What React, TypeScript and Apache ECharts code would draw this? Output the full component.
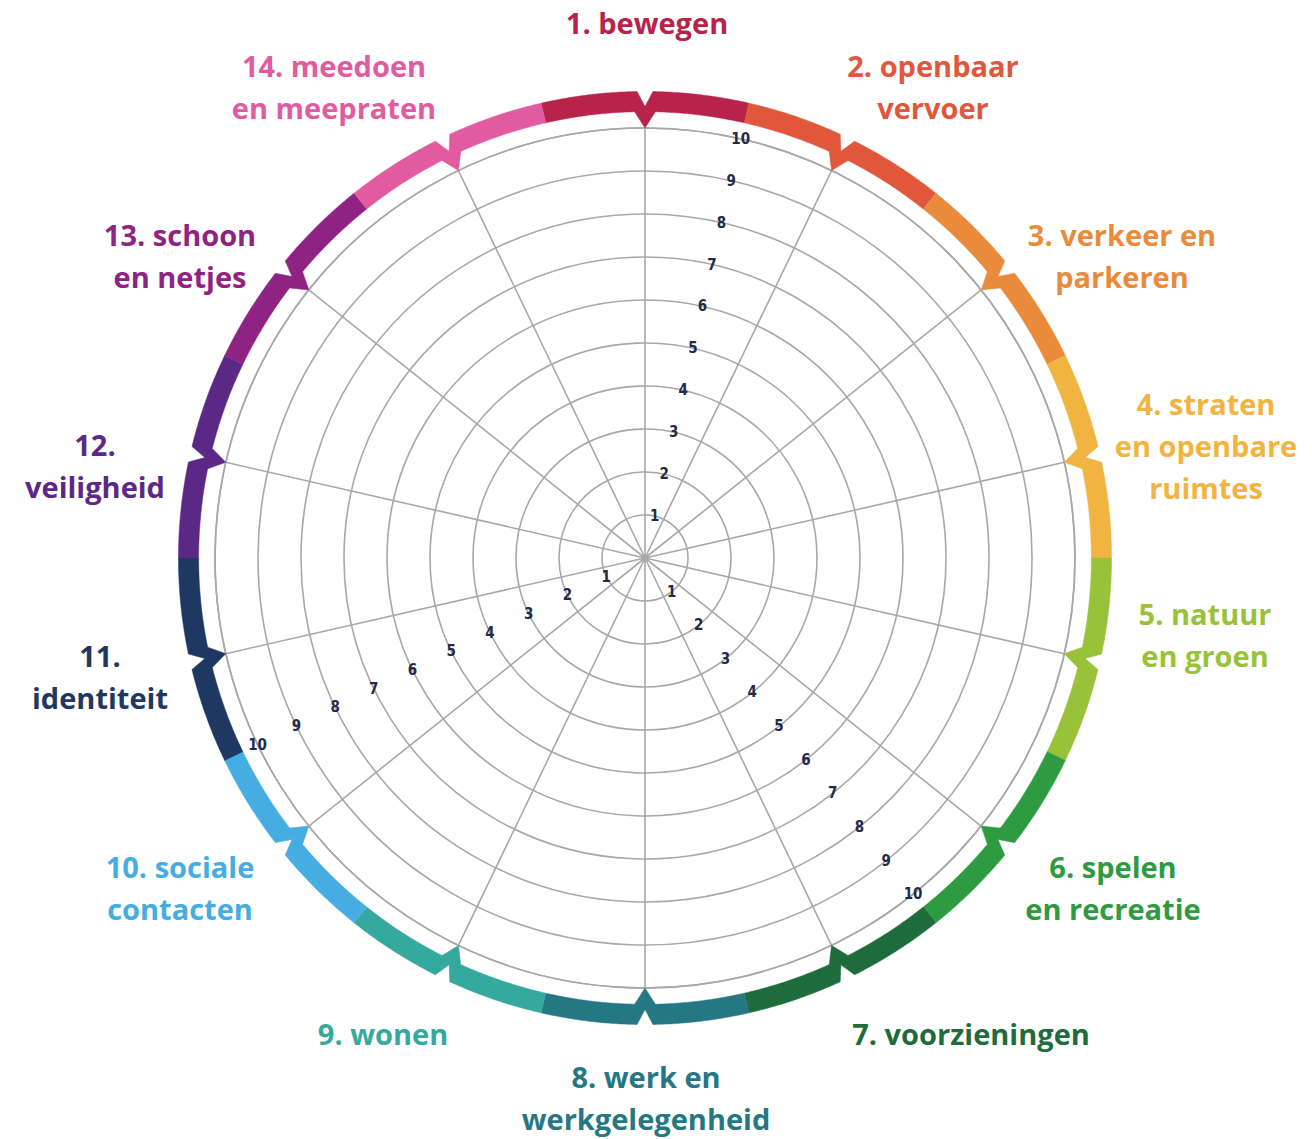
import React, { useEffect, useRef } from 'react';
import * as echarts from 'echarts';

// ---- data ----
const categories: string[] = [
  '1. bewegen',
  '2. openbaar\nvervoer',
  '3. verkeer en\nparkeren',
  '4. straten\nen openbare\nruimtes',
  '5. natuur\nen groen',
  '6. spelen\nen recreatie',
  '7. voorzieningen',
  '8. werk en\nwerkgelegenheid',
  '9. wonen',
  '10. sociale\ncontacten',
  '11.\nidentiteit',
  '12.\nveiligheid',
  '13. schoon\nen netjes',
  '14. meedoen\nen meepraten',
];
const categoryColors: string[] = [
  '#B8234A', '#E0573B', '#E98B3B', '#F1B441', '#99C23B', '#2E9B41', '#1E6C3C',
  '#257784', '#35A99D', '#46ADE2', '#1F3862', '#5C2886', '#8F2383', '#E25BA0',
];
const tickLabels: string[] = ['1', '2', '3', '4', '5', '6', '7', '8', '9', '10'];
const scaleMax = 10;
// tick-label rows sit between these category positions (0-based, fractional)
const tickLabelSpokes: number[] = [0.5, 5.5, 9.5];

// ---- layout ----
const CENTER: [number, number] = [645, 558];
const RADIUS = 430;
const RING_OUTER = 10.85;
const RING_INNER = 10.38;
const RING_NOTCH = 10.5;
const RING_TIP = 10.0;
const NOTCH_HALF = 0.038;
const TIP_HALF = 0.052;
const labelCenters: [number, number][] = [
  [647, 22], [933, 86], [1122, 255], [1206, 445], [1205, 634], [1113, 887], [971, 1033],
  [646, 1097], [383, 1033], [180, 887], [100, 676], [95, 465], [180, 255], [334, 86],
];

const N = categories.length;
const GRID = '#A8A8A8';

export default function App() {
  const ref = useRef<HTMLDivElement>(null);
  useEffect(() => {
    if (!ref.current) return;
    const chart = echarts.init(ref.current, undefined, { renderer: 'svg' });

    const polars: any[] = [{ center: CENTER, radius: RADIUS }];
    const angleAxes: any[] = [
      {
        polarIndex: 0,
        type: 'value',
        min: 0,
        max: N,
        interval: 1,
        startAngle: 90,
        clockwise: true,
        axisLine: { show: true, lineStyle: { color: GRID, width: 1.6 } },
        axisTick: { show: false },
        axisLabel: { show: false },
        splitLine: { show: true, lineStyle: { color: GRID, width: 1.6 } },
      },
    ];
    const radiusAxes: any[] = [
      {
        polarIndex: 0,
        type: 'value',
        min: 0,
        max: scaleMax,
        interval: 1,
        axisLine: { show: false },
        axisTick: { show: false },
        axisLabel: { show: false },
        splitLine: { show: true, lineStyle: { color: GRID, width: 1.6 } },
      },
    ];
    tickLabelSpokes.forEach((pos, i) => {
      const idx = i + 1;
      let start = 90 - (pos * 360) / N;
      while (start < 0) start += 360;
      polars.push({ center: CENTER, radius: RADIUS });
      angleAxes.push({
        polarIndex: idx,
        type: 'value',
        min: 0,
        max: N,
        startAngle: start,
        clockwise: true,
        axisLine: { show: false },
        axisTick: { show: false },
        axisLabel: { show: false },
        splitLine: { show: false },
      });
      radiusAxes.push({
        polarIndex: idx,
        type: 'value',
        min: 0,
        max: scaleMax,
        interval: 1,
        z: 10,
        axisLine: { show: false },
        axisTick: { show: false },
        splitLine: { show: false },
        axisLabel: {
          show: true,
          showMinLabel: false,
          margin: 0,
          rotate: 0,
          align: 'center',
          verticalAlign: 'middle',
          color: '#232A48',
          fontSize: 15,
          fontWeight: 'bold',
          fontFamily: '"Liberation Sans Narrow", "DejaVu Sans Condensed", "Roboto", sans-serif',
          formatter: (v: number) => {
            const k = Math.round(v);
            return k >= 1 ? tickLabels[k - 1] : '';
          },
        },
      });
    });

    const graphics = categories.map((name, i) => ({
      type: 'text',
      x: labelCenters[i][0],
      y: labelCenters[i][1],
      style: {
        text: name,
        fill: categoryColors[i],
        font: 'bold 29px "Open Sans", "Roboto", sans-serif',
        align: 'center',
        verticalAlign: 'middle',
        lineHeight: 42,
      },
    }));

    chart.setOption({
      animation: false,
      backgroundColor: '#ffffff',
      polar: polars,
      angleAxis: angleAxes,
      radiusAxis: radiusAxes,
      graphic: graphics,
      series: [
        {
          type: 'custom',
          coordinateSystem: 'polar',
          polarIndex: 0,
          silent: true,
          clip: false,
          z: 5,
          data: categories.map((_, i) => [RING_OUTER, i]),
          renderItem: (params: any, api: any) => {
            const k = params.dataIndex;
            const pts: number[][] = [];
            const arc = (r: number, from: number, to: number) => {
              const n = 40;
              for (let j = 0; j <= n; j++) pts.push(api.coord([r, from + ((to - from) * j) / n]));
            };
            arc(RING_OUTER, k - 0.5, k - NOTCH_HALF);
            pts.push(api.coord([RING_NOTCH, k]));
            arc(RING_OUTER, k + NOTCH_HALF, k + 0.5);
            arc(RING_INNER, k + 0.5, k + TIP_HALF);
            pts.push(api.coord([RING_TIP, k]));
            arc(RING_INNER, k - TIP_HALF, k - 0.5);
            return {
              type: 'polygon',
              shape: { points: pts },
              style: { fill: categoryColors[k], stroke: categoryColors[k], lineWidth: 0.5 },
            };
          },
        },
      ],
    });
    return () => chart.dispose();
  }, []);
  return (
    <div
      ref={ref}
      style={{ position: 'fixed', left: 0, top: 0, width: 1312, height: 1139, background: '#fff' }}
    />
  );
}
